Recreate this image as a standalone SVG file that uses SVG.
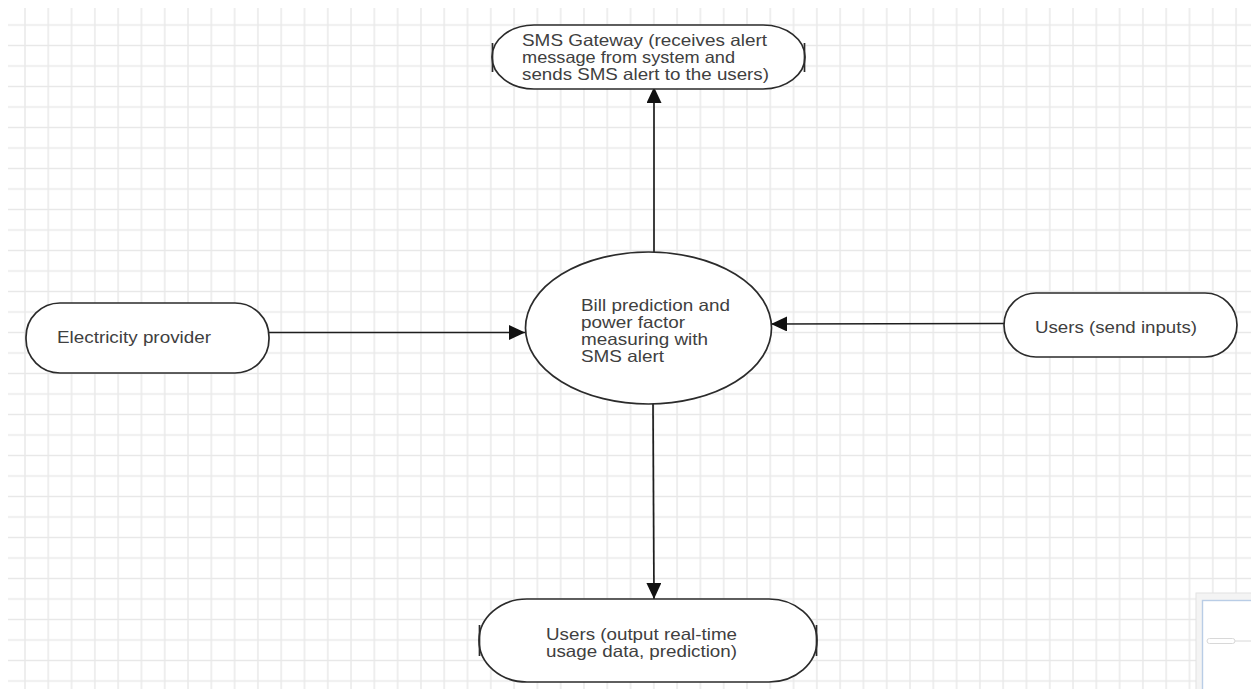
<svg xmlns="http://www.w3.org/2000/svg" width="1251" height="689" viewBox="0 0 1251 689">
  <style>
    .shape { fill: #ffffff; stroke: #2b2b2b; stroke-width: 1.7; }
    .tick { stroke: #2b2b2b; stroke-width: 1.7; }
    .label { font-family: "Liberation Sans", Arial, sans-serif; font-size: 16.5px; fill: #404040; }
    .edge { stroke: #1e1e1e; stroke-width: 1.7; fill: none; marker-end: url(#arrow); }
  </style>
  <defs>
    <pattern id="grid" patternUnits="userSpaceOnUse" x="13.355" y="14.75" width="23.29" height="20.5">
      <line x1="11.645" y1="0" x2="11.645" y2="20.5" stroke="#e8e8e8" stroke-width="1.4"/>
      <line x1="0" y1="10.25" x2="23.29" y2="10.25" stroke="#e8e8e8" stroke-width="1.4"/>
    </pattern>
    <marker id="arrow" markerUnits="userSpaceOnUse" markerWidth="17" markerHeight="16" refX="16" refY="7.5" orient="auto">
      <path d="M0,0 L16,7.5 L0,15 z" fill="#111111"/>
    </marker>
  </defs>

  <!-- canvas background and grid -->
  <rect x="0" y="0" width="1251" height="689" fill="#ffffff"/>
  <rect x="8" y="8" width="1243" height="681" fill="url(#grid)"/>

  <!-- connectors -->
  <g id="connectors">
    <line class="edge" x1="654" y1="252" x2="654" y2="87"/>
    <line class="edge" x1="269" y1="332.5" x2="525" y2="332.5"/>
    <line class="edge" x1="1004" y1="323.5" x2="771" y2="324"/>
    <line class="edge" x1="653" y1="404" x2="654" y2="599"/>
  </g>

  <!-- SMS gateway -->
  <g id="sms-gateway">
    <rect class="shape" x="492" y="25" width="313" height="64" rx="42" ry="32"/>
    <line class="tick" x1="492.5" y1="43" x2="492.5" y2="72"/>
    <line class="tick" x1="804.5" y1="43" x2="804.5" y2="72"/>
    <text class="label" x="522" y="46" textLength="245" lengthAdjust="spacingAndGlyphs">SMS Gateway (receives alert</text>
    <text class="label" x="522" y="63" textLength="213" lengthAdjust="spacingAndGlyphs">message from system and</text>
    <text class="label" x="522" y="80" textLength="247" lengthAdjust="spacingAndGlyphs">sends SMS alert to the users)</text>
  </g>

  <!-- central process -->
  <g id="process">
    <ellipse class="shape" cx="648.5" cy="328" rx="123" ry="76"/>
    <text class="label" x="581" y="311" textLength="149" lengthAdjust="spacingAndGlyphs">Bill prediction and</text>
    <text class="label" x="581" y="328" textLength="104" lengthAdjust="spacingAndGlyphs">power factor</text>
    <text class="label" x="581" y="345" textLength="127" lengthAdjust="spacingAndGlyphs">measuring with</text>
    <text class="label" x="581" y="362" textLength="83" lengthAdjust="spacingAndGlyphs">SMS alert</text>
  </g>

  <!-- electricity provider -->
  <g id="electricity-provider">
    <rect class="shape" x="26" y="303" width="243" height="70" rx="34" ry="34"/>
    <text class="label" x="57" y="343" textLength="154" lengthAdjust="spacingAndGlyphs">Electricity provider</text>
  </g>

  <!-- users sending inputs -->
  <g id="users-input">
    <rect class="shape" x="1004" y="293" width="233" height="64" rx="32" ry="32"/>
    <text class="label" x="1035" y="333" textLength="162" lengthAdjust="spacingAndGlyphs">Users (send inputs)</text>
  </g>

  <!-- users receiving output -->
  <g id="users-output">
    <rect class="shape" x="479" y="599" width="338" height="83" rx="48" ry="41.5"/>
    <line class="tick" x1="479.5" y1="625" x2="479.5" y2="656"/>
    <line class="tick" x1="816.5" y1="625" x2="816.5" y2="656"/>
    <text class="label" x="546" y="640" textLength="191" lengthAdjust="spacingAndGlyphs">Users (output real-time</text>
    <text class="label" x="546" y="657" textLength="191" lengthAdjust="spacingAndGlyphs">usage data, prediction)</text>
  </g>

  <!-- overview panel in the corner -->
  <g id="overview-panel">
    <rect x="1196" y="593" width="60" height="100" fill="#f4f4f4" stroke="#e2e2e2" stroke-width="1"/>
    <rect x="1202.5" y="600.5" width="55" height="95" fill="#ffffff" stroke="#b9cde6" stroke-width="1.4"/>
    <rect x="1207" y="638.5" width="28" height="5" rx="2.5" fill="#ffffff" stroke="#d8d8d8" stroke-width="1"/>
    <line x1="1235" y1="641" x2="1251" y2="641" stroke="#d8d8d8" stroke-width="1"/>
  </g>
</svg>
